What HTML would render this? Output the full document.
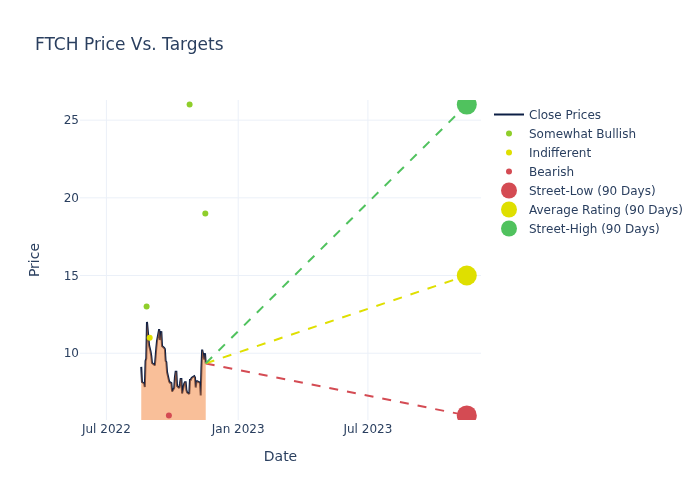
<!DOCTYPE html>
<html><head><meta charset="utf-8"><title>FTCH Price Vs. Targets</title>
<style>html,body{margin:0;padding:0;background:#fff;overflow:hidden}svg{display:block}
text{font-family:"DejaVu Sans","Liberation Sans",sans-serif;fill:#2a3f5f}</style></head>
<body><svg width="700" height="500" viewBox="0 0 700 500">
<rect width="700" height="500" fill="#fff"/>
<defs><clipPath id="c"><rect x="80" y="100" width="401" height="320"/></clipPath></defs>
<g><path d="M106.4,100V420" stroke="#ebf0f8" stroke-width="1"/><path d="M238.2,100V420" stroke="#ebf0f8" stroke-width="1"/><path d="M367.9,100V420" stroke="#ebf0f8" stroke-width="1"/><path d="M80,120.14H481" stroke="#ebf0f8" stroke-width="1"/><path d="M80,197.84H481" stroke="#ebf0f8" stroke-width="1"/><path d="M80,275.54H481" stroke="#ebf0f8" stroke-width="1"/><path d="M80,353.24H481" stroke="#ebf0f8" stroke-width="1"/></g>
<g clip-path="url(#c)">
<path d="M141.25,366.9L141.97,382L144.12,383.5L144.83,387L145.55,361L146.26,358.5L146.98,321.9L149.13,345.5L149.85,348.5L150.56,351.5L151.28,356L152.0,363L154.86,365.3L155.58,357L156.29,348L157.01,341L159.16,329.1L159.88,340L160.59,336L161.31,331.2L162.03,346L164.17,348L164.89,349L165.61,361L166.32,362L167.04,372L169.19,381.5L169.91,382.7L170.62,382.5L171.34,383L172.06,391.5L174.2,388L174.92,377L175.64,371.8L176.35,371.8L177.07,386L179.22,388L179.94,384L180.65,379L181.37,379L182.08,393.5L184.23,383.5L184.95,382.2L185.67,382.2L186.38,390L187.1,392.5L189.25,394L189.97,380L190.68,380L191.4,378.3L192.11,377.5L194.26,376.2L194.98,377.5L195.7,387.5L196.41,382L197.13,381.3L199.28,382.3L199.99,383.3L200.71,395.5L201.43,368L202.14,349.6L204.29,359.5L205.01,353.2L205.73,363.4" fill="none" stroke="#0c1f45" stroke-width="2" stroke-miterlimit="2"/>
<path d="M141.25,366.9L141.97,382L144.12,383.5L144.83,387L145.55,361L146.26,358.5L146.98,321.9L149.13,345.5L149.85,348.5L150.56,351.5L151.28,356L152.0,363L154.86,365.3L155.58,357L156.29,348L157.01,341L159.16,329.1L159.88,340L160.59,336L161.31,331.2L162.03,346L164.17,348L164.89,349L165.61,361L166.32,362L167.04,372L169.19,381.5L169.91,382.7L170.62,382.5L171.34,383L172.06,391.5L174.2,388L174.92,377L175.64,371.8L176.35,371.8L177.07,386L179.22,388L179.94,384L180.65,379L181.37,379L182.08,393.5L184.23,383.5L184.95,382.2L185.67,382.2L186.38,390L187.1,392.5L189.25,394L189.97,380L190.68,380L191.4,378.3L192.11,377.5L194.26,376.2L194.98,377.5L195.7,387.5L196.41,382L197.13,381.3L199.28,382.3L199.99,383.3L200.71,395.5L201.43,368L202.14,349.6L204.29,359.5L205.01,353.2L205.73,363.4L205.73,420L141.25,420Z" fill="rgba(243,127,51,0.5)" stroke="none"/>
<circle cx="189.6" cy="104.60" r="3" fill="#8fce2b"/>
<circle cx="205.3" cy="213.38" r="3" fill="#8fce2b"/>
<circle cx="146.6" cy="306.62" r="3" fill="#8fce2b"/>
<circle cx="149.7" cy="337.70" r="3" fill="#dfdf00"/>
<circle cx="168.9" cy="415.40" r="3" fill="#d44b53"/>
<path d="M205.73,363.4L466.8,415.40" stroke="#d44b53" stroke-width="2" stroke-dasharray="9,9" fill="none"/>
<circle cx="466.8" cy="415.40" r="10" fill="#d44b53"/>
<path d="M205.73,363.4L466.8,275.54" stroke="#dfdf00" stroke-width="2" stroke-dasharray="9,9" fill="none"/>
<circle cx="466.8" cy="275.54" r="10" fill="#dfdf00"/>
<path d="M205.73,363.4L466.8,104.60" stroke="#50c25e" stroke-width="2" stroke-dasharray="9,9" fill="none"/>
<circle cx="466.8" cy="104.60" r="10" fill="#50c25e"/>
</g>
<g><text x="106.4" y="433" font-size="12" text-anchor="middle">Jul 2022</text><text x="238.2" y="433" font-size="12" text-anchor="middle">Jan 2023</text><text x="367.9" y="433" font-size="12" text-anchor="middle">Jul 2023</text><text x="79" y="124.34" font-size="12" text-anchor="end">25</text><text x="79" y="202.04" font-size="12" text-anchor="end">20</text><text x="79" y="279.74" font-size="12" text-anchor="end">15</text><text x="79" y="357.44" font-size="12" text-anchor="end">10</text></g>
<text x="280.5" y="460.5" font-size="14" text-anchor="middle">Date</text>
<text transform="translate(39,260) rotate(-90)" font-size="14" text-anchor="middle">Price</text>
<text x="35" y="50" font-size="17">FTCH Price Vs. Targets</text>
<g><path d="M494,114.5H524" stroke="#0c1f45" stroke-width="2" fill="none"/><text x="529" y="118.7" font-size="12">Close Prices</text>
<circle cx="509" cy="133.5" r="3" fill="#8fce2b"/><text x="529" y="137.7" font-size="12">Somewhat Bullish</text>
<circle cx="509" cy="152.5" r="3" fill="#dfdf00"/><text x="529" y="156.7" font-size="12">Indifferent</text>
<circle cx="509" cy="171.5" r="3" fill="#d44b53"/><text x="529" y="175.7" font-size="12">Bearish</text>
<circle cx="509" cy="190.5" r="8" fill="#d44b53"/><text x="529" y="194.7" font-size="12">Street-Low (90 Days)</text>
<circle cx="509" cy="209.5" r="8" fill="#dfdf00"/><text x="529" y="213.7" font-size="12">Average Rating (90 Days)</text>
<circle cx="509" cy="228.5" r="8" fill="#50c25e"/><text x="529" y="232.7" font-size="12">Street-High (90 Days)</text>
</g>
</svg></body></html>
